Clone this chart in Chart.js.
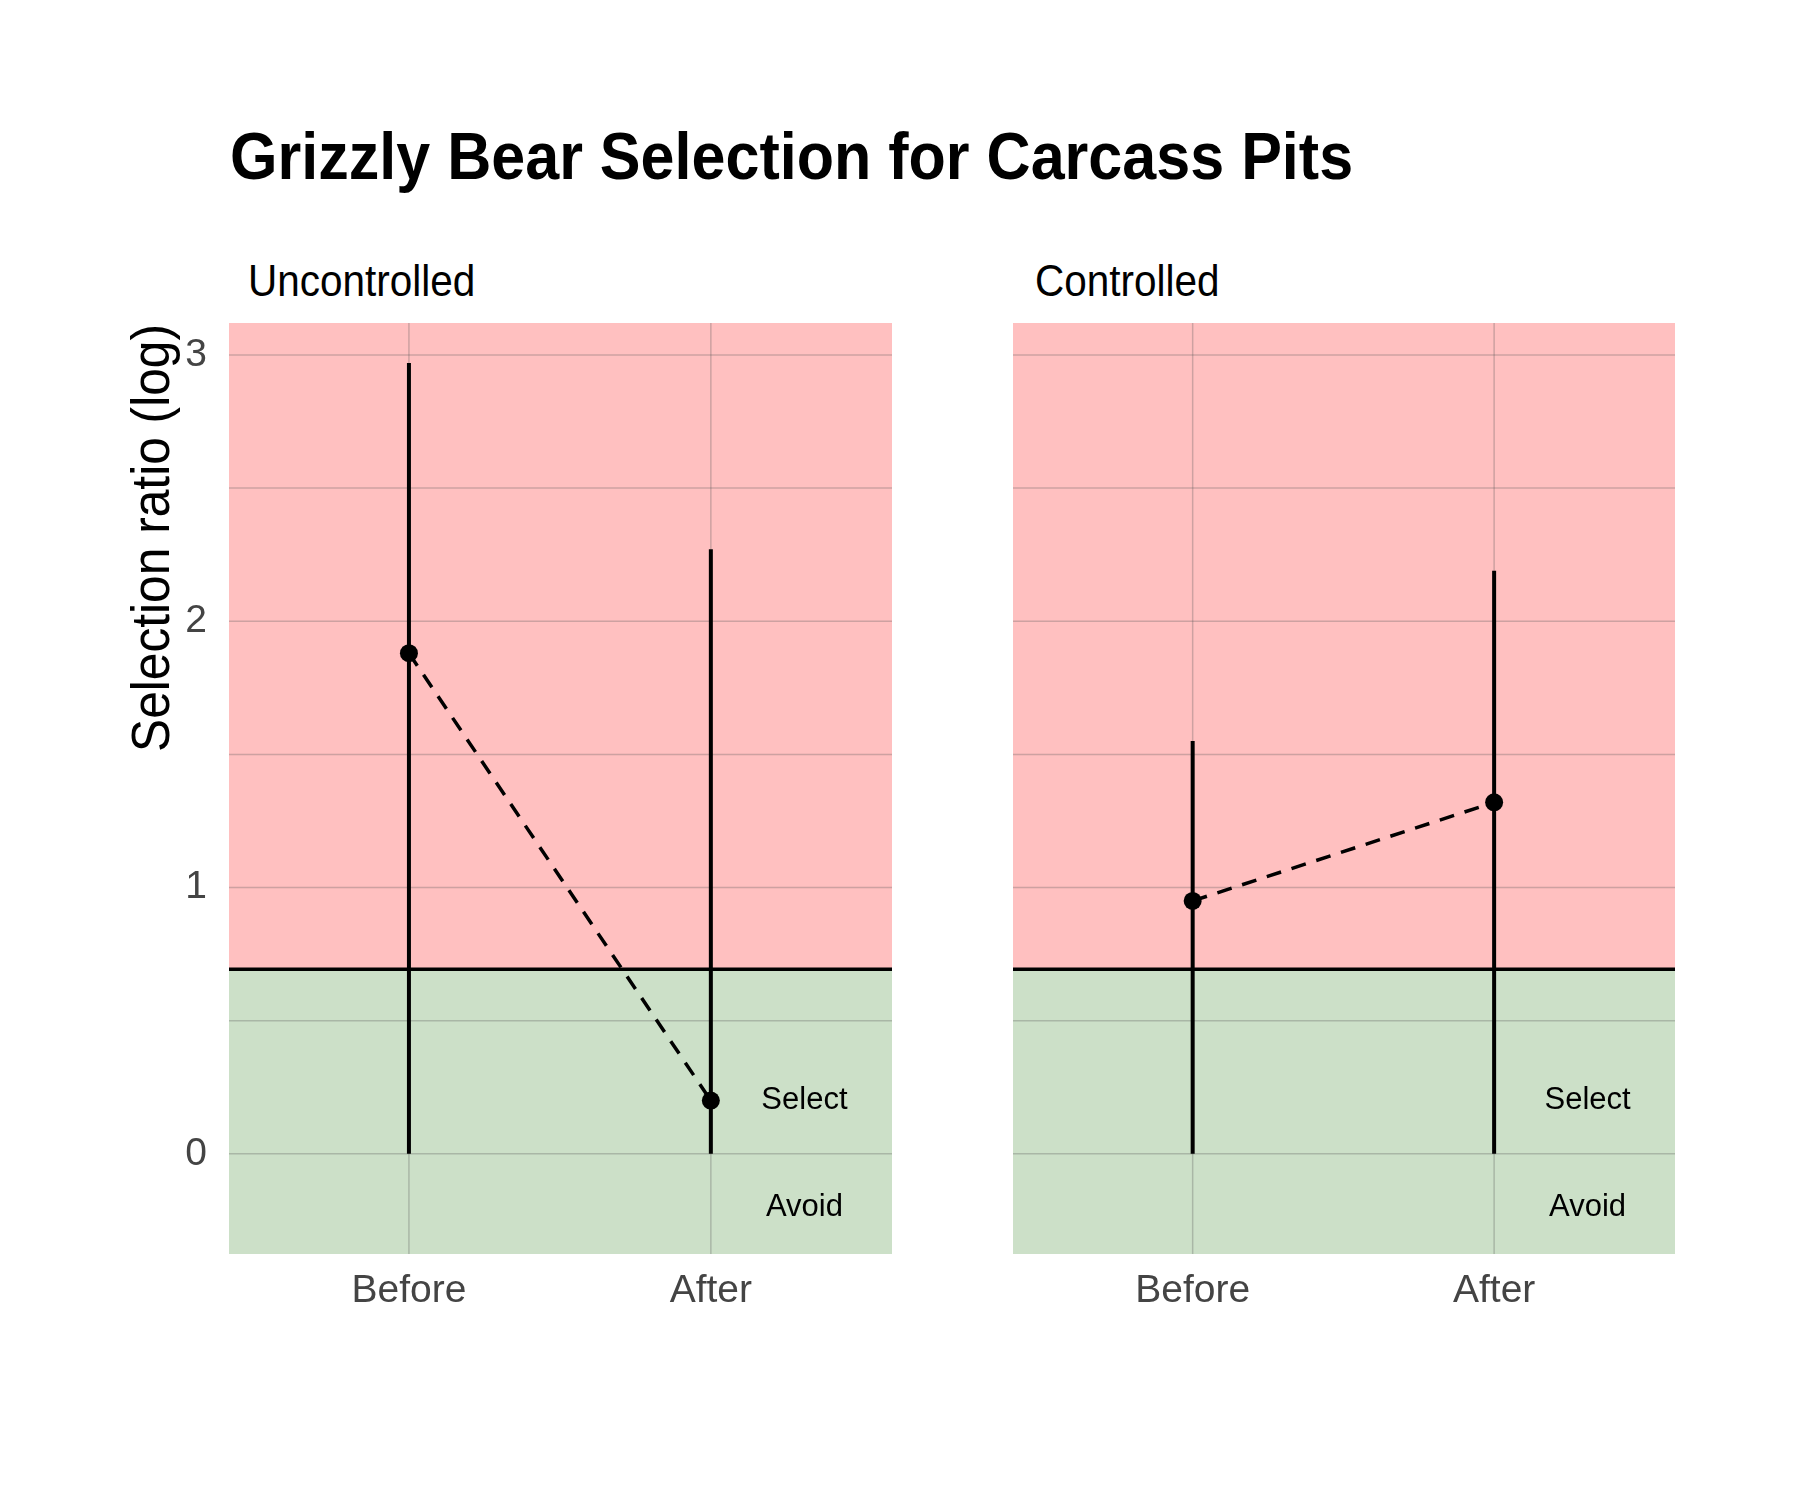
<!DOCTYPE html>
<html>
<head>
<meta charset="utf-8">
<script src="https://cdn.jsdelivr.net/npm/chart.js@4"></script>
<style>
    body { margin: 0; background: #fff; width: 1800px; height: 1500px; position: relative; overflow: hidden; }
    canvas { position: absolute; left: 0; top: 0; }
    .txt { position: absolute; font-family: "Liberation Sans Narrow", "Arial Narrow", "Liberation Sans", sans-serif; color: #000; white-space: nowrap; transform-origin: 0 0; }
    #title { left: 230px; top: 118px; font-size: 66px; font-weight: bold; transform: scaleX(0.925); }
    .sub { top: 256px; font-size: 44px; transform: scaleX(0.92); }
    #ylab { left: 150px; top: 538px; font-size: 54px; transform-origin: 50% 50%; transform: translate(-50%, -50%) rotate(-90deg) scaleX(0.92); }
</style>
</head>
<body>
<div id="title" class="txt">Grizzly Bear Selection for Carcass Pits</div>
<div class="txt sub" style="left:248px">Uncontrolled</div>
<div class="txt sub" style="left:1035px">Controlled</div>
<div id="ylab" class="txt">Selection ratio (log)</div>
<canvas id="leftChart" width="1800" height="1500"></canvas>
<canvas id="rightChart" width="1800" height="1500"></canvas>
<script>
const periods = ['Before', 'After'];
const yTicks = [0, 0.5, 1, 1.5, 2, 2.5, 3];
const threshold = 0.693;

const uncontrolledMean = [1.88, 0.2];
const uncontrolledLow = [0, 0];
const uncontrolledHigh = [2.97, 2.27];

const controlledMean = [0.95, 1.32];
const controlledLow = [0, 0];
const controlledHigh = [1.55, 2.19];

const zoneLabels = [{ text: 'Select', y: 0.2 }, { text: 'Avoid', y: -0.2 }];

const FONT = '"Liberation Sans Narrow", "Arial Narrow", "Liberation Sans", sans-serif';

const zones = {
    id: 'zones',
    beforeDatasetsDraw(chart) {
        const { ctx, chartArea: a, scales: { x, y } } = chart;
        const t = y.getPixelForValue(threshold);
        ctx.save();
        ctx.fillStyle = '#ffc0c0';
        ctx.fillRect(a.left, a.top, a.width, t - a.top);
        ctx.fillStyle = '#cce0c8';
        ctx.fillRect(a.left, t, a.width, a.bottom - t);
        // grid drawn again over the fills
        ctx.strokeStyle = 'rgba(90,90,90,0.3)';
        ctx.lineWidth = 1.5;
        yTicks.forEach(v => {
            const p = y.getPixelForValue(v);
            ctx.beginPath(); ctx.moveTo(a.left, p); ctx.lineTo(a.right, p); ctx.stroke();
        });
        [1, 2].forEach(v => {
            const p = x.getPixelForValue(v);
            ctx.beginPath(); ctx.moveTo(p, a.top); ctx.lineTo(p, a.bottom); ctx.stroke();
        });
        ctx.strokeStyle = '#000';
        ctx.lineWidth = 3.5;
        ctx.beginPath(); ctx.moveTo(a.left, t); ctx.lineTo(a.right, t); ctx.stroke();
        ctx.fillStyle = '#000';
        ctx.font = '31px "Liberation Sans", Arial, sans-serif';
        ctx.textAlign = 'center';
        ctx.textBaseline = 'middle';
        zoneLabels.forEach(z => {
            ctx.fillText(z.text, x.getPixelForValue(2.31), y.getPixelForValue(z.y));
        });
        ctx.restore();
    }
};

function buildDatasets(mean, low, high) {
    const bars = periods.map((p, i) => ({
        data: [{ x: i + 1, y: low[i] }, { x: i + 1, y: high[i] }],
        borderColor: '#000', borderWidth: 4, pointRadius: 0, showLine: true
    }));
    return bars.concat([{
        data: mean.map((v, i) => ({ x: i + 1, y: v })),
        borderColor: '#000', borderWidth: 3.5, borderDash: [15, 11],
        pointRadius: 9, pointBackgroundColor: '#000', pointBorderWidth: 0, showLine: true
    }]);
}

function makeChart(id, mean, low, high, showY, padLeft, padRight) {
    new Chart(document.getElementById(id), {
        type: 'scatter',
        data: { datasets: buildDatasets(mean, low, high) },
        plugins: [zones],
        options: {
            responsive: false,
            animation: false,
            layout: { padding: { left: padLeft, right: padRight, top: 323, bottom: 186 } },
            plugins: { legend: { display: false }, tooltip: { enabled: false } },
            scales: {
                x: {
                    type: 'linear', min: 0.404, max: 2.6,
                    afterBuildTicks: s => { s.ticks = [{ value: 1 }, { value: 2 }]; },
                    afterFit: s => { s.height = 60; },
                    grid: { display: false }, border: { display: false },
                    ticks: {
                        callback: v => periods[v - 1], color: '#444',
                        font: { family: FONT, size: 39 }, padding: 6
                    }
                },
                y: {
                    type: 'linear', min: -0.376, max: 3.12,
                    afterBuildTicks: s => { s.ticks = yTicks.map(v => ({ value: v })); },
                    afterFit: s => { s.width = showY ? 60 : 0; },
                    grid: { display: false }, border: { display: false },
                    ticks: {
                        display: showY, color: '#444',
                        callback: v => Number.isInteger(v) ? v : '',
                        font: { family: FONT, size: 39 }, padding: 14
                    }
                }
            }
        }
    });
}

makeChart('leftChart', uncontrolledMean, uncontrolledLow, uncontrolledHigh, true, 169, 908);
makeChart('rightChart', controlledMean, controlledLow, controlledHigh, false, 1013, 125);
</script>
</body>
</html>
